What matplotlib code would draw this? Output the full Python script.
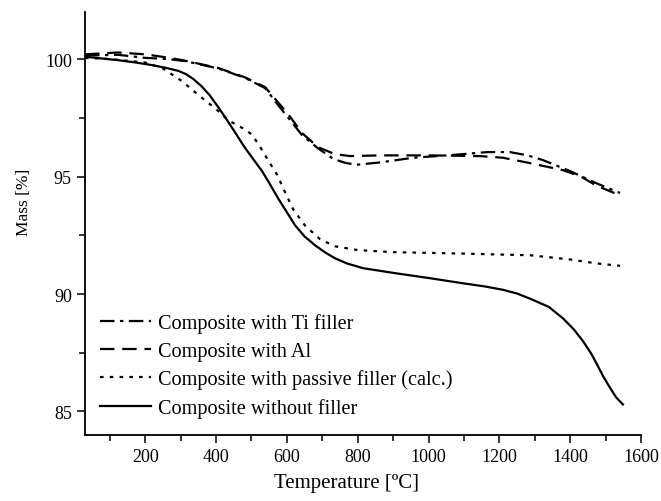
import matplotlib
matplotlib.use("Agg")
import matplotlib.pyplot as plt
from matplotlib.ticker import MultipleLocator

plt.rcParams['font.family'] = ['Liberation Serif', 'DejaVu Serif']

# Composite without filler (solid)
t_none = [30, 80, 124, 170, 220, 260, 293, 315, 335, 358, 382, 405, 430, 455, 480,
          506, 530, 552, 575, 600, 623, 650, 680, 708, 736, 770, 815, 900, 1005,
          1100, 1160, 1210, 1250, 1287, 1340, 1380, 1410, 1436, 1460, 1476, 1495,
          1513, 1530, 1549]
m_none = [100.1, 100.02, 99.95, 99.86, 99.74, 99.62, 99.5, 99.36, 99.16, 98.86,
          98.46, 97.98, 97.43, 96.85, 96.26, 95.72, 95.23, 94.68, 94.08, 93.48,
          92.93, 92.45, 92.07, 91.77, 91.52, 91.3, 91.1, 90.9, 90.67, 90.45, 90.32,
          90.18, 90.02, 89.8, 89.45, 88.96, 88.5, 88.0, 87.45, 87.0, 86.45, 86.0,
          85.6, 85.3]

# Composite with passive filler (calc.) (dotted)
t_pass = [30, 100, 200, 250, 304, 350, 398, 434, 482, 500, 519, 547, 573, 595, 618,
          652, 694, 736, 800, 900, 1000, 1100, 1200, 1287, 1350, 1400, 1476, 1541]
m_pass = [100.05, 100.0, 99.85, 99.6, 99.06, 98.47, 97.9, 97.4, 97.0, 96.8, 96.4,
          95.7, 95.06, 94.33, 93.6, 92.9, 92.33, 92.03, 91.87, 91.78, 91.75, 91.72,
          91.68, 91.65, 91.55, 91.47, 91.3, 91.2]

# Composite with Al (dashed)
t_al = [30, 124, 200, 265, 313, 406, 482, 539, 567, 604, 643, 688, 736, 779, 863,
        1004, 1145, 1210, 1287, 1380, 1430, 1476, 1541]
m_al = [100.2, 100.28, 100.2, 100.06, 99.93, 99.62, 99.22, 98.8, 98.3, 97.65, 96.85,
        96.25, 95.95, 95.87, 95.9, 95.9, 95.87, 95.8, 95.57, 95.27, 95.0, 94.6, 94.2]

# Composite with Ti filler (dash-dot)
t_ti = [30, 124, 200, 265, 313, 406, 482, 539, 567, 604, 643, 688, 731, 765, 797,
        863, 957, 1070, 1166, 1230, 1280, 1323, 1400, 1476, 1541]
m_ti = [100.15, 100.18, 100.05, 100.0, 99.91, 99.6, 99.2, 98.76, 98.2, 97.5, 96.76,
        96.2, 95.75, 95.58, 95.5, 95.6, 95.8, 95.92, 96.04, 96.04, 95.9, 95.7, 95.23,
        94.7, 94.3]

labels = ["Composite with Ti filler", "Composite with Al",
          "Composite with passive filler (calc.)", "Composite without filler"]

fig = plt.figure(figsize=(6.61, 5.02), dpi=100)
ax = fig.add_axes([0.1286, 0.1315, 0.8411, 0.8425])

lw = 1.6
ax.plot(t_ti, m_ti, color='black', lw=lw, dashes=(6.5, 2.5, 1.5, 2.5), label=labels[0])
ax.plot(t_al, m_al, color='black', lw=lw, dashes=(6.5, 3.5), label=labels[1])
ax.plot(t_pass, m_pass, color='black', lw=lw, dashes=(1.6, 2.8), label=labels[2])
ax.plot(t_none, m_none, color='black', lw=lw, label=labels[3])

ax.set_xlim(30, 1600)
ax.set_ylim(84, 102)
ax.xaxis.set_major_locator(MultipleLocator(200))
ax.xaxis.set_minor_locator(MultipleLocator(100))
ax.yaxis.set_major_locator(MultipleLocator(5))
ax.yaxis.set_minor_locator(MultipleLocator(2.5))

for s in ['top', 'right']:
    ax.spines[s].set_visible(False)
for s in ['left', 'bottom']:
    ax.spines[s].set_linewidth(1.3)

ax.tick_params(which='major', direction='out', length=6, width=1.1, labelsize=13)
ax.tick_params(which='minor', direction='out', length=4, width=1.1)

ax.set_xlabel("Temperature [ºC]", fontsize=15)
ax.set_ylabel("Mass [%]", fontsize=12.5)
ax.xaxis.set_label_coords(0.471, -0.09)
ax.yaxis.set_label_coords(-0.095, 0.553)

ax.legend(loc='lower left', bbox_to_anchor=(0.027, 0.041), frameon=False,
          fontsize=14.6, handlelength=2.5, handletextpad=0.35, labelspacing=0.42,
          borderaxespad=0, borderpad=0)

fig.savefig("out.png", dpi=100)
